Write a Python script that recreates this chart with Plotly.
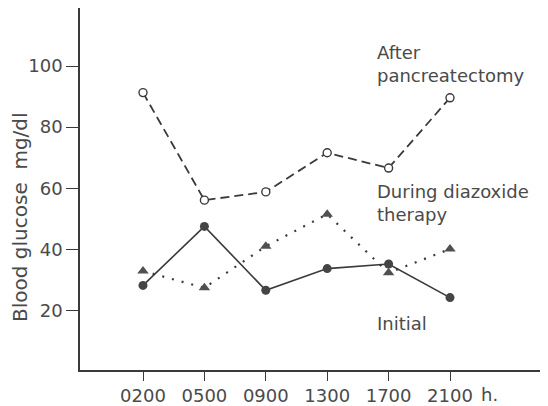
import plotly.graph_objects as go

times = ["0200", "0500", "0900", "1300", "1700", "2100"]
after_pancreatectomy = [91.3, 56.1, 58.8, 71.6, 66.6, 89.6]
during_diazoxide = [32.9, 27.4, 41.0, 51.5, 32.3, 40.1]
initial = [28.2, 47.5, 26.6, 33.7, 35.2, 24.2]
y_ticks = [20, 40, 60, 80, 100]

xs = list(range(len(times)))
FONT = "DejaVu Sans"
TXT = "#4a4a4a"
LINE = "#3a3a3a"

fig = go.Figure()

fig.add_trace(go.Scatter(
    x=xs, y=after_pancreatectomy, mode="lines+markers",
    line=dict(color=LINE, width=1.8, dash="9px,5px"),
    marker=dict(symbol="circle", size=8, color="white",
                line=dict(color=LINE, width=1.4)),
    showlegend=False))

fig.add_trace(go.Scatter(
    x=xs, y=during_diazoxide, mode="lines+markers",
    line=dict(color=LINE, width=2.2, dash="2px,8px"),
    marker=dict(symbol="triangle-up", size=10, color="#505050"),
    showlegend=False))

fig.add_trace(go.Scatter(
    x=xs, y=initial, mode="lines+markers",
    line=dict(color=LINE, width=1.6),
    marker=dict(symbol="circle", size=9, color="#454545"),
    showlegend=False))

annots = [
    dict(text="After<br>pancreatectomy", x=3.78, y=100.6),
    dict(text="During diazoxide<br>therapy", x=3.78, y=55.1),
    dict(text="Initial", x=3.78, y=15.8),
]
for a in annots:
    fig.add_annotation(text=a["text"], x=a["x"], y=a["y"], xref="x", yref="y",
                       xanchor="left", yanchor="middle", align="left",
                       showarrow=False, font=dict(family=FONT, size=18, color=TXT))

fig.add_annotation(text="h.", x=5.65, y=0, xref="x", yref="paper",
                   xanchor="center", yanchor="top", yshift=-12, showarrow=False,
                   font=dict(family=FONT, size=18, color=TXT))

# y-axis title (placed as rotated annotation to match the reference's offset)
fig.add_annotation(text="Blood glucose\u00a0\u00a0mg/dl", textangle=-90,
                   x=-0.128, y=0.423, xref="paper", yref="paper",
                   xanchor="center", yanchor="middle", showarrow=False,
                   font=dict(family=FONT, size=20, color=TXT))

# page body has an 8px margin, so the figure is sized to fit the window
fig.update_layout(
    width=540, height=398,
    margin=dict(l=72, r=0, t=0, b=33),
    paper_bgcolor="white", plot_bgcolor="white",
    font=dict(family=FONT, size=18, color=TXT),
    xaxis=dict(range=[-1.026, 6.596], tickvals=xs, ticktext=times,
               showgrid=False, zeroline=False, showline=True,
               linecolor=LINE, linewidth=1.5, ticks="outside", ticklen=9,
               tickcolor=LINE, tickwidth=1.2,
               tickfont=dict(family=FONT, size=18, color=TXT)),
    yaxis=dict(range=[0.5, 119], tickvals=y_ticks,
               showgrid=False, zeroline=False, showline=True,
               linecolor=LINE, linewidth=1.5, ticks="outside", ticklen=12,
               tickcolor=LINE, tickwidth=1.2,
               tickfont=dict(family=FONT, size=18, color=TXT)),
)

fig.write_html("out.html")
